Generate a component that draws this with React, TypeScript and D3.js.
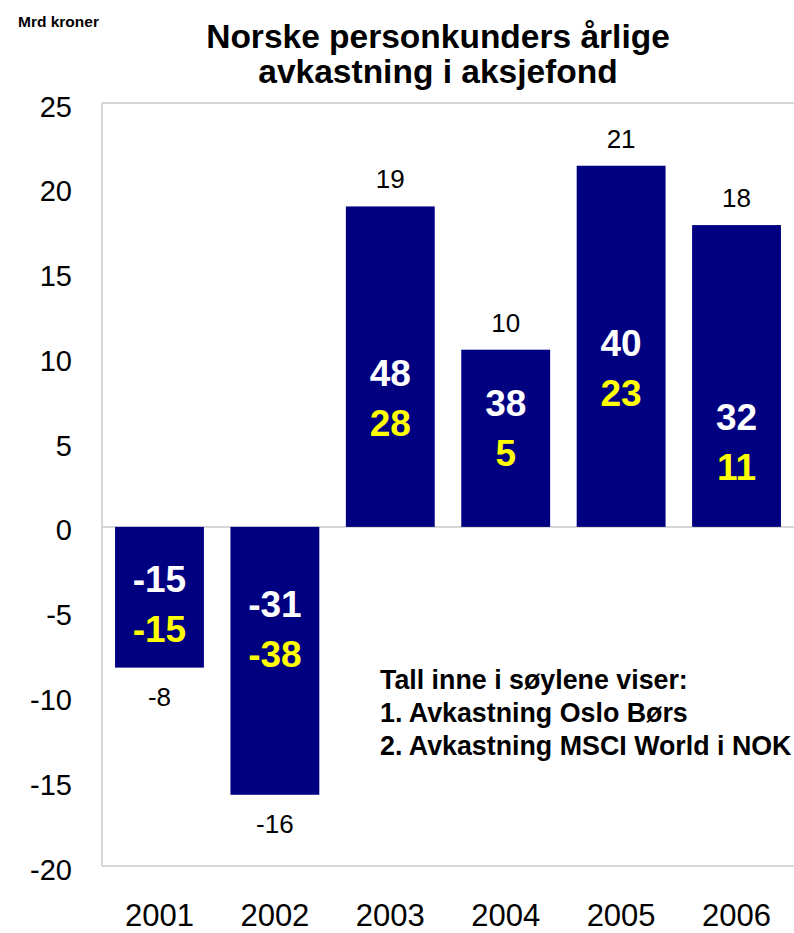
import React, { useEffect, useRef } from "react";
import * as d3 from "d3";

// data
const years = ["2001", "2002", "2003", "2004", "2005", "2006"];
const returnsBn = [-8.3, -15.8, 18.9, 10.45, 21.3, 17.8]; // Mrd kroner
const osloBors = [-15, -31, 48, 38, 40, 32];
const msciWorld = [-15, -38, 28, 5, 23, 11];
const yTicks = [-20, -15, -10, -5, 0, 5, 10, 15, 20, 25];
const titleLines = ["Norske personkunders årlige", "avkastning i aksjefond"];
const legendLines = [
  "Tall inne i søylene viser:",
  "1. Avkastning Oslo Børs",
  "2. Avkastning MSCI World i NOK",
];

// where the pair of numbers inside each bar is centred (value units)
const innerLabelMid = [-4.55, -6.0, 7.6, 5.85, 9.4, 5.0];

const App = () => {
  const svgRef = useRef<SVGSVGElement | null>(null);
  const w = 794;
  const h = 933;
  const m = { top: 103, right: 0, bottom: 67, left: 102 };
  const font = "Arial, 'Liberation Sans', Helvetica, sans-serif";

  useEffect(() => {
    const svg = d3.select(svgRef.current);
    svg.selectAll("*").remove();

    const x = d3
      .scaleBand()
      .domain(years)
      .range([m.left, w - m.right])
      .paddingInner(0.23)
      .paddingOuter(0.113);

    const y = d3
      .scaleLinear()
      .domain([-20, 25])
      .range([h - m.bottom, m.top]);

    const grey = "#c8c8c8";
    // plain hyphen minus, like the reference
    const fmt = (d: number) => String(Math.round(d));

    // frame
    const frame = [
      [m.left, y(25), w, y(25)],
      [m.left, y(-20), w, y(-20)],
      [m.left, y(25), m.left, y(-20)],
      [m.left, y(0), w, y(0)],
    ];
    svg.append("g")
      .selectAll("line")
      .data(frame)
      .join("line")
      .attr("x1", (d) => d[0]).attr("y1", (d) => d[1])
      .attr("x2", (d) => d[2]).attr("y2", (d) => d[3])
      .attr("stroke", grey).attr("stroke-width", 1.5);

    // bars
    svg.append("g")
      .selectAll("rect")
      .data(returnsBn)
      .join("rect")
      .attr("x", (_, i) => x(years[i]))
      .attr("width", x.bandwidth())
      .attr("y", (d) => y(Math.max(0, d)))
      .attr("height", (d) => Math.abs(y(d) - y(0)))
      .attr("fill", "#000080");

    // value labels outside bars
    svg.append("g")
      .selectAll("text")
      .data(returnsBn)
      .join("text")
      .attr("x", (_, i) => x(years[i]) + x.bandwidth() / 2)
      .attr("y", (d) => (d >= 0 ? y(d) - 18 : y(d) + 38))
      .attr("text-anchor", "middle")
      .attr("font-family", font)
      .attr("font-size", 26)
      .attr("fill", "#000")
      .text((d) => fmt(d));

    // inner labels (Oslo Børs white, MSCI World yellow)
    const inner = svg.append("g")
      .attr("font-family", font)
      .attr("font-size", 37)
      .attr("font-weight", "bold")
      .attr("text-anchor", "middle");
    inner.selectAll("text.oslo")
      .data(osloBors)
      .join("text")
      .attr("class", "oslo")
      .attr("x", (_, i) => x(years[i]) + x.bandwidth() / 2)
      .attr("y", (_, i) => y(innerLabelMid[i]) - 12)
      .attr("fill", "#ffffff")
      .text((d) => fmt(d));
    inner.selectAll("text.msci")
      .data(msciWorld)
      .join("text")
      .attr("class", "msci")
      .attr("x", (_, i) => x(years[i]) + x.bandwidth() / 2)
      .attr("y", (_, i) => y(innerLabelMid[i]) + 38)
      .attr("fill", "#ffff00")
      .text((d) => fmt(d));

    // y axis
    const yAxis = d3.axisLeft(y).tickValues(yTicks).tickSize(0).tickPadding(30).tickFormat((d) => fmt(+d));
    const gy = svg.append("g").attr("transform", `translate(${m.left},0)`).call(yAxis);
    gy.select(".domain").remove();
    gy.selectAll("text")
      .attr("font-family", font)
      .attr("font-size", 29)
      .attr("fill", "#000")
      .attr("dy", "0.45em");

    // x axis
    const xAxis = d3.axisBottom(x).tickSize(0).tickPadding(38);
    const gx = svg.append("g").attr("transform", `translate(0,${y(-20)})`).call(xAxis);
    gx.select(".domain").remove();
    gx.selectAll("text")
      .attr("font-family", font)
      .attr("font-size", 31)
      .attr("fill", "#000");

    // title with white box over the frame
    svg.append("rect")
      .attr("x", 199).attr("y", 0)
      .attr("width", 480).attr("height", 100)
      .attr("fill", "#fff");
    svg.append("g")
      .selectAll("text")
      .data(titleLines)
      .join("text")
      .attr("x", 438)
      .attr("y", (_, i) => 48 + i * 35)
      .attr("text-anchor", "middle")
      .attr("font-family", font)
      .attr("font-size", 33.5)
      .attr("font-weight", "bold")
      .attr("fill", "#000")
      .text((d) => d);

    svg.append("text")
      .attr("x", 18).attr("y", 27)
      .attr("font-family", font)
      .attr("font-size", 15.5)
      .attr("font-weight", "bold")
      .text("Mrd kroner");

    // legend
    svg.append("g")
      .selectAll("text")
      .data(legendLines)
      .join("text")
      .attr("x", 380)
      .attr("y", (_, i) => 689 + i * 33)
      .attr("font-family", font)
      .attr("font-size", 26.8)
      .attr("font-weight", "bold")
      .attr("fill", "#000")
      .text((d) => d);
  }, []);

  return (
    <svg
      ref={svgRef}
      width={w}
      height={h}
      style={{ position: "absolute", left: 0, top: 0, background: "#fff" }}
    ></svg>
  );
};

export default App;
